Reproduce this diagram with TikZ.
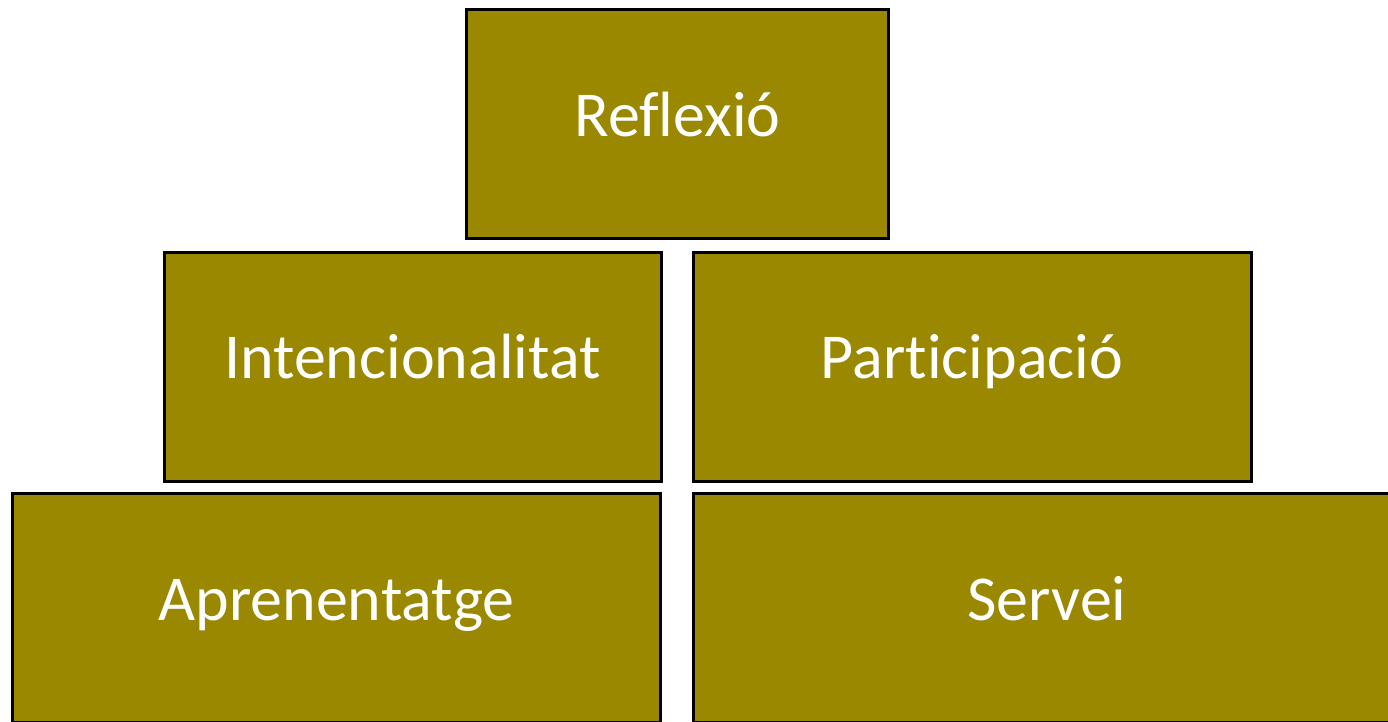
\documentclass[tikz,border=0pt]{standalone}
\usepackage{fontspec}
\setmainfont[Ligatures={NoCommon}]{Carlito}
\definecolor{olivebox}{RGB}{153,136,0}
\tikzset{
  box/.style={draw=black, line width=3pt, fill=olivebox, rectangle, inner sep=0pt},
  lbl/.style={text=white, font=\fontsize{64}{72}\selectfont, anchor=base, inner sep=0pt}
}
\begin{document}
\begin{tikzpicture}[x=1pt,y=-1pt]
\useasboundingbox (0,0) rectangle (1388,721);
\clip (0,0) rectangle (1388,721);
\fill[white] (0,0) rectangle (1388,721);
% boxes
\node[box, minimum width=422pt, minimum height=229pt] (refl) at (677.5,124) {};
\node[box, minimum width=497pt, minimum height=229pt] (inte) at (412.5,366.5) {};
\node[box, minimum width=558pt, minimum height=229pt] (part) at (972,366.5) {};
\node[box, minimum width=648pt, minimum height=229pt] (apre) at (336.5,608) {};
\node[box, minimum width=708pt, minimum height=229pt] (serv) at (1047,608) {};
% labels
\node[lbl] (trefl) at (677.5,136) {Reflexió};
\node[lbl] (tinte) at (412.5,378) {Intencionalitat};
\node[lbl] (tpart) at (972,378) {Participació};
\node[lbl] (tapre) at (336.5,620) {Aprenentatge};
\node[lbl] (tserv) at (1047,620) {Servei};
\end{tikzpicture}
\end{document}
